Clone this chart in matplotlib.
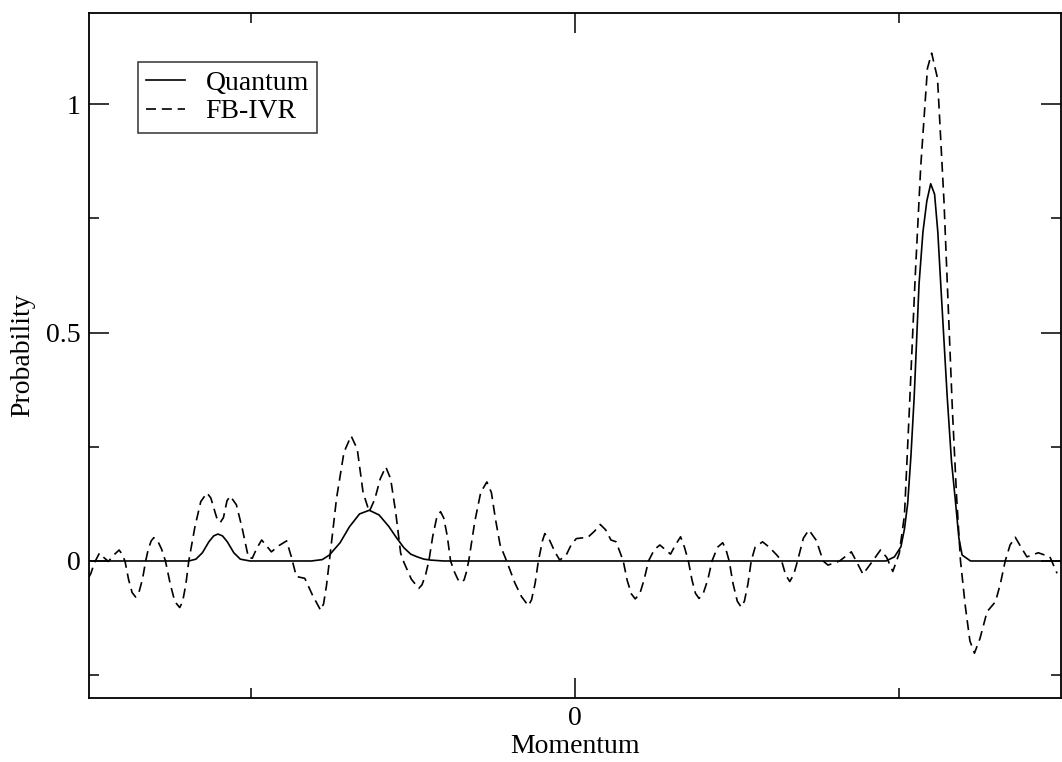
import matplotlib
matplotlib.use("Agg")
import matplotlib.pyplot as plt
from matplotlib.ticker import MultipleLocator, FixedFormatter, FixedLocator

plt.rcParams["font.family"] = ["Liberation Serif", "DejaVu Serif"]
plt.rcParams["font.size"] = 20

# Quantum probability (solid line)
quantum_p = [-1.500, -1.192, -1.170, -1.150, -1.130, -1.115, -1.102, -1.088,
             -1.073, -1.053, -1.033, -1.003,
             -0.814, -0.780, -0.758, -0.725, -0.696, -0.665, -0.635, -0.605,
             -0.575, -0.553, -0.528, -0.507, -0.487, -0.466, -0.446, -0.405,
             0.960, 0.986, 1.006, 1.017, 1.027, 1.037, 1.047, 1.062, 1.074,
             1.086, 1.098, 1.110, 1.120, 1.129, 1.149, 1.162, 1.175, 1.185,
             1.195, 1.221, 1.500]
quantum_prob = [0.0, 0.0, 0.004, 0.018, 0.042, 0.055, 0.059, 0.055,
                0.042, 0.018, 0.004, 0.0,
                0.0, 0.003, 0.013, 0.040, 0.075, 0.103, 0.111, 0.101,
                0.076, 0.053, 0.029, 0.015, 0.009, 0.004, 0.002, 0.0,
                0.0, 0.009, 0.031, 0.070, 0.126, 0.230, 0.359, 0.606, 0.720,
                0.788, 0.826, 0.803, 0.720, 0.606, 0.359, 0.220, 0.126, 0.050,
                0.013, 0.0, 0.0]

# FB-IVR probability (dashed line)
fbivr_p = [-1.500, -1.494, -1.484, -1.468, -1.455, -1.440, -1.425, -1.407,
           -1.398, -1.389, -1.378, -1.367, -1.356, -1.346, -1.335, -1.325,
           -1.317, -1.308, -1.300, -1.288, -1.276, -1.264, -1.249, -1.235,
           -1.220, -1.211, -1.201, -1.192, -1.173, -1.155, -1.136, -1.124,
           -1.106, -1.095, -1.085, -1.074, -1.064, -1.045, -1.027, -1.008,
           -0.996, -0.982, -0.967, -0.952, -0.937, -0.913, -0.890, -0.875,
           -0.860, -0.834, -0.810, -0.785, -0.776, -0.767, -0.758, -0.736,
           -0.713, -0.691, -0.672, -0.654, -0.635, -0.618, -0.601, -0.584,
           -0.569, -0.553, -0.538, -0.528, -0.505, -0.482, -0.472, -0.461,
           -0.451, -0.439, -0.427, -0.415, -0.405, -0.394, -0.384, -0.372,
           -0.361, -0.349, -0.342, -0.335, -0.328, -0.309, -0.291, -0.272,
           -0.258, -0.245, -0.231, -0.211, -0.185, -0.165, -0.144, -0.134,
           -0.123, -0.113, -0.100, -0.093, -0.078, -0.062, -0.047, -0.027,
           -0.012, 0.004, 0.040, 0.060, 0.078, 0.095, 0.111, 0.127, 0.149,
           0.161, 0.174, 0.186, 0.200, 0.213, 0.227, 0.245, 0.262, 0.295,
           0.310, 0.326, 0.338, 0.350, 0.361, 0.372, 0.383, 0.396, 0.410,
           0.423, 0.440, 0.456, 0.466, 0.476, 0.488, 0.501, 0.513, 0.523,
           0.534, 0.544, 0.556, 0.579, 0.600, 0.623, 0.638, 0.650, 0.663,
           0.675, 0.687, 0.705, 0.722, 0.745, 0.766, 0.781, 0.817, 0.853,
           0.868, 0.889, 0.919, 0.943, 0.962, 0.981, 1.001, 1.017, 1.032,
           1.050, 1.067, 1.088, 1.101, 1.119, 1.139, 1.152, 1.165, 1.178,
           1.190, 1.205, 1.219, 1.233, 1.250, 1.272, 1.298, 1.313, 1.328,
           1.343, 1.359, 1.377, 1.395, 1.430, 1.466, 1.488]
fbivr_prob = [-0.035, -0.027, -0.005, 0.017, 0.008, -0.001, 0.012, 0.024,
              0.015, 0.0, -0.040, -0.069, -0.079, -0.069, -0.040, 0.0,
              0.026, 0.044, 0.051, 0.044, 0.026, 0.0, -0.051, -0.089,
              -0.102, -0.089, -0.051, 0.0, 0.075, 0.130, 0.149, 0.138,
              0.095, 0.084, 0.095, 0.132, 0.142, 0.123, 0.071, 0.008,
              0.006, 0.028, 0.046, 0.033, 0.020, 0.034, 0.044, 0.008,
              -0.034, -0.038, -0.075, -0.108, -0.094, -0.054, 0.0, 0.137,
              0.238, 0.274, 0.245, 0.150, 0.108, 0.135, 0.180, 0.206,
              0.180, 0.105, 0.017, -0.003, -0.040, -0.060, -0.052, -0.030,
              0.0, 0.054, 0.094, 0.108, 0.094, 0.054, 0.0, -0.024,
              -0.041, -0.047, -0.041, -0.024, 0.0, 0.087, 0.150, 0.173,
              0.150, 0.090, 0.035, 0.0, -0.049, -0.078, -0.098, -0.085,
              -0.049, 0.0, 0.045, 0.060, 0.045, 0.020, 0.002, 0.013,
              0.035, 0.049, 0.052, 0.065, 0.080, 0.068, 0.046, 0.042, 0.0,
              -0.042, -0.072, -0.083, -0.072, -0.042, 0.0, 0.025, 0.035, 0.015,
              0.035, 0.053, 0.030, 0.0, -0.041, -0.071, -0.082, -0.071, -0.041,
              0.0, 0.030, 0.040, 0.025, 0.0, -0.050, -0.088, -0.101, -0.088,
              -0.050, 0.0, 0.030, 0.042, 0.030, 0.013, 0.0, -0.030, -0.045,
              -0.030, 0.0, 0.050, 0.068, 0.045, 0.0, -0.009, 0.0, 0.020,
              0.0, -0.029, 0.0, 0.024, 0.008, -0.023, 0.017, 0.100, 0.330,
              0.620, 0.861, 1.079, 1.112, 1.057, 0.788, 0.560, 0.330, 0.140,
              0.0, -0.100, -0.175, -0.202, -0.170, -0.111, -0.089, -0.050, 0.0,
              0.035, 0.052, 0.030, 0.009, 0.018, 0.009, -0.027]


def momentum_distribution():
    fig = plt.figure(figsize=(10.62, 7.62), dpi=100)
    ax = fig.add_axes([0.0838, 0.084, 0.9152, 0.899])

    ax.plot(quantum_p, quantum_prob, "-", color="black", lw=1.2,
            label="Quantum")
    ax.plot(fbivr_p, fbivr_prob, color="black", lw=1.2, dashes=(6, 3.5),
            label="FB-IVR")

    ax.set_xlim(-1.5, 1.5)
    ax.set_ylim(-0.3, 1.2)

    ax.xaxis.set_major_locator(FixedLocator([0]))
    ax.xaxis.set_major_formatter(FixedFormatter(["0"]))
    ax.xaxis.set_minor_locator(MultipleLocator(1))
    ax.yaxis.set_major_locator(FixedLocator([0, 0.5, 1]))
    ax.yaxis.set_major_formatter(FixedFormatter(["0", "0.5", "1"]))
    ax.yaxis.set_minor_locator(MultipleLocator(0.25))

    ax.tick_params(which="both", direction="in", top=True, right=True,
                   width=1.1, labelsize=20)
    ax.tick_params(which="major", length=14.5, pad=6)
    ax.tick_params(which="minor", length=7)
    for s in ax.spines.values():
        s.set_linewidth(1.3)

    ax.set_xlabel("Momentum", fontsize=20, labelpad=2)
    ax.set_ylabel("Probability", fontsize=20, labelpad=8)

    leg = ax.legend(loc="upper left", bbox_to_anchor=(0.05, 0.928),
                    fontsize=20, frameon=True, fancybox=False,
                    handlelength=1.4, handletextpad=0.75, borderpad=0.3,
                    labelspacing=0.1, borderaxespad=0)
    leg.get_frame().set_edgecolor("black")
    leg.get_frame().set_linewidth(1.1)

    fig.savefig("out.png", dpi=100)


if __name__ == "__main__":
    momentum_distribution()
